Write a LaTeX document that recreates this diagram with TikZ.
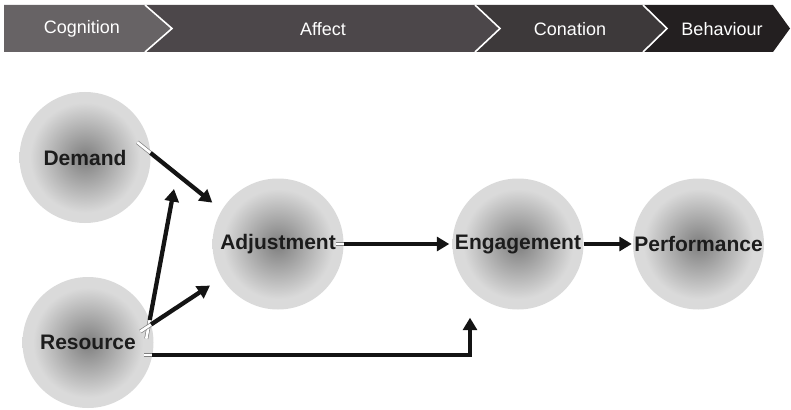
\documentclass[tikz,border=0pt]{standalone}
\usepackage{fontspec}
\setmainfont{Liberation Sans}
\usetikzlibrary{arrows.meta,calc}

% stage band colours
\definecolor{cogfill}{HTML}{676365}
\definecolor{afffill}{HTML}{4C474A}
\definecolor{confill}{HTML}{3D393A}
\definecolor{behfill}{HTML}{231F20}
% concept balls and connectors
\definecolor{balldark}{HTML}{878787}
\definecolor{balllight}{HTML}{DADADA}
\definecolor{labelink}{HTML}{1C1C1C}
\definecolor{arrowink}{HTML}{141414}
\definecolor{stubgrey}{HTML}{808080}

\pgfdeclareradialshading{ballshade}{\pgfpoint{0bp}{0bp}}{%
  color(0bp)=(balldark); color(2bp)=(balldark);
  color(21bp)=(balllight); color(50bp)=(balllight)}

\tikzset{
  ball/.style={circle, minimum size=131pt, inner sep=0pt, shading=ballshade,
    text=labelink, font=\bfseries\fontsize{21}{24}\selectfont},
  stage/.style={text=white, font=\fontsize{18}{21}\selectfont, inner sep=0pt},
  stagesep/.style={draw=white, line width=1.6pt},
  conn/.style={draw=arrowink, line width=4.3pt,
    -{Triangle[length=12.5pt,width=14pt]}},
  stub/.style={draw=stubgrey, line width=0.7pt, double=white,
    double distance=2.6pt},
}

\begin{document}
\begin{tikzpicture}[x=1pt,y=-1pt]
\useasboundingbox (0,0) rectangle (791,409);

% stage band
\fill[cogfill] (4,5) -- (145,5) -- (172,28.5) -- (145,52) -- (4,52) -- cycle;
\fill[afffill] (145,5) -- (475,5) -- (500,28.5) -- (475,52) -- (145,52) -- (172,28.5) -- cycle;
\fill[confill] (475,5) -- (643,5) -- (667,28.5) -- (643,52) -- (475,52) -- (500,28.5) -- cycle;
\fill[behfill] (643,5) -- (773,5) -- (790,28.5) -- (773,52) -- (643,52) -- (667,28.5) -- cycle;
\draw[stagesep] (145,5) -- (172,28.5) -- (145,52);
\draw[stagesep] (475,5) -- (500,28.5) -- (475,52);
\draw[stagesep] (643,5) -- (667,28.5) -- (643,52);

\node[stage] (cog) at (82,29) {Cognition};
\node[stage] (aff) at (323,29) {Affect};
\node[stage] (con) at (570,29) {Conation};
\node[stage] (beh) at (722,29) {Behaviour};

% concepts
\node[ball] (demand) at (85,157.5) {Demand};
\node[ball] (res)    at (88,342.5) {Resource};
\node[ball] (adj)    at (278,244)  {Adjustment};
\node[ball] (engage) at (518,244)  {Engagement};
\node[ball] (perf)   at (698.5,244) {Performance};

% moderation target on the demand-adjustment path
\coordinate (modtip) at (174,189);

% hollow line starts inside the circles
\draw[stub] ($(demand.4)!-17pt!(adj.149)$) -- (demand.4);
\draw[stub] ($(res.20)!-19pt!(modtip)$) -- (res.20);
\draw[stub] ($(res.16)!-13pt!(adj.211)$) -- (res.16);
\draw[stub] ([xshift=-8pt]res.-11) -- (res.-11);
\draw[stub] ([xshift=-8pt]adj.east) -- (adj.east);

% connectors
\draw[conn, shorten >=12pt] (demand.4) -- (adj.149);
\draw[conn] (res.20) -- (modtip);
\draw[conn, shorten >=14pt] (res.16) -- (adj.211);
\draw[conn] (res.-11) -| ([xshift=-48pt,yshift=-8pt]engage.south);
\draw[conn, shorten >=3pt] (adj.east) -- (engage.west);
\draw[conn, shorten >=1pt] (engage.east) -- (perf.west);
\end{tikzpicture}
\end{document}
